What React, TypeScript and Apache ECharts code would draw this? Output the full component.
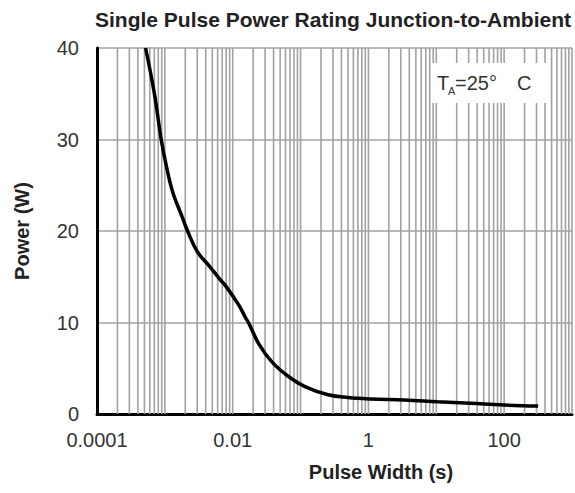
import React, { useEffect, useRef } from "react";
import * as echarts from "echarts";

// Curve readings: pulse width (s) and single-pulse power (W)
const pulseWidth = [
  5.2e-4, 7.05e-4, 8.83e-4, 1.045e-3, 1.3e-3, 1.83e-3, 2.16e-3, 3.03e-3, 4.49e-3,
  6.35e-3, 7.87e-3, 1.23e-2, 1.55e-2, 1.73e-2, 2.41e-2, 3.78e-2, 6.63e-2, 0.116, 0.255,
  0.5, 1.09, 3.37, 10.4, 31.7, 97.7, 317,
];
const power = [
  40, 34.9, 30, 27.2, 24.3, 21.4, 20, 17.7, 16.2, 14.8, 14.0, 11.9, 10.5, 9.9, 7.7, 5.7,
  4.1, 3.0, 2.1, 1.8, 1.64, 1.53, 1.34, 1.17, 0.98, 0.87,
];

const xTickLabels = ["0.0001", "0.01", "1", "100"];
const xMin = 0.0001;
const xMax = 1000;
const yMin = 0;
const yMax = 40;
const yStep = 10;

const titleText = "Single Pulse Power Rating Junction-to-Ambient";
const xName = "Pulse Width (s)";
const yName = "Power (W)";

const FONT = "'Liberation Sans', Arial, sans-serif";
const GRID_COLOR = "#a2a2a2";

export default function App() {
  const ref = useRef<HTMLDivElement>(null);

  useEffect(() => {
    if (!ref.current) return;
    const chart = echarts.init(ref.current, undefined, { renderer: "svg" });

    // vertical log grid lines at 1..9 x 10^k
    const gridValues: number[] = [];
    for (let e = -4; e <= 2; e++) {
      for (let m = 1; m <= 9; m++) {
        if (e === -4 && m === 1) continue;
        gridValues.push(m * Math.pow(10, e));
      }
    }
    gridValues.push(1000);

    const curve = pulseWidth.map((x, i) => [x, power[i]]);

    chart.setOption({
      animation: false,
      backgroundColor: "#ffffff",
      title: {
        text: titleText,
        left: 90,
        top: 4,
        textStyle: { fontFamily: FONT, fontSize: 21, fontWeight: "bold", color: "#222" },
      },
      grid: { left: 97, right: 0, top: 48, bottom: 79 },
      xAxis: {
        type: "log",
        logBase: 10,
        min: xMin,
        max: xMax,
        axisLine: { show: true, onZero: false, lineStyle: { color: "#000", width: 3 } },
        axisTick: { show: false },
        splitLine: { show: false },
        minorSplitLine: { show: false },
        axisLabel: {
          fontFamily: FONT,
          fontSize: 20,
          color: "#333",
          margin: 16,
          hideOverlap: false,
          formatter: (v: number) => {
            const e = Math.round(Math.log10(v));
            const idx = (e + 4) / 2;
            return Number.isInteger(idx) && idx >= 0 && idx < xTickLabels.length
              ? xTickLabels[idx]
              : "";
          },
        },
      },
      yAxis: {
        type: "value",
        min: yMin,
        max: yMax,
        interval: yStep,
        name: yName,
        nameLocation: "middle",
        nameRotate: 90,
        nameGap: 65,
        nameTextStyle: { fontFamily: FONT, fontSize: 20, fontWeight: "bold", color: "#222" },
        axisLine: { show: true, lineStyle: { color: "#000", width: 3 } },
        axisTick: { show: false },
        splitLine: { show: true, lineStyle: { color: GRID_COLOR, width: 1.6 } },
        axisLabel: { fontFamily: FONT, fontSize: 20, color: "#333", margin: 18 },
      },
      series: [
        {
          type: "custom",
          name: "grid",
          silent: true,
          z: 1,
          data: gridValues.map((v) => [v]),
          encode: { x: 0 },
          renderItem: (params: any, api: any) => {
            const v = api.value(0);
            const p0 = api.coord([v, yMin]);
            const p1 = api.coord([v, yMax]);
            return {
              type: "line",
              shape: { x1: p0[0], y1: p0[1], x2: p1[0], y2: p1[1] },
              style: { stroke: GRID_COLOR, lineWidth: 1.6 },
            };
          },
        },
        {
          type: "line",
          name: "Power",
          data: curve,
          smooth: 0.4,
          showSymbol: false,
          z: 5,
          lineStyle: { color: "#000", width: 3.5 },
          clip: true,
        },
      ],
      graphic: [
        {
          type: "rect",
          z: 10,
          shape: { x: 432, y: 63, width: 116, height: 40 },
          style: { fill: "#fff" },
        },
        {
          type: "text",
          z: 11,
          x: 437,
          y: 83,
          style: { text: "T", font: `20px ${FONT}`, fill: "#333", verticalAlign: "middle" },
        },
        {
          type: "text",
          z: 11,
          x: 448,
          y: 91,
          style: { text: "A", font: `11px ${FONT}`, fill: "#333", verticalAlign: "middle" },
        },
        {
          type: "text",
          z: 11,
          x: 455,
          y: 83,
          style: { text: "=25°", font: `20px ${FONT}`, fill: "#333", verticalAlign: "middle" },
        },
        {
          type: "text",
          z: 11,
          x: 517,
          y: 83,
          style: { text: "C", font: `20px ${FONT}`, fill: "#333", verticalAlign: "middle" },
        },
        {
          type: "text",
          x: 381,
          y: 472,
          style: {
            text: xName,
            font: `bold 20px ${FONT}`,
            fill: "#222",
            align: "center",
            verticalAlign: "middle",
          },
        },
      ],
    });

    return () => chart.dispose();
  }, []);

  return (
    <div
      ref={ref}
      style={{ position: "absolute", left: 0, top: 0, width: 575, height: 493, background: "#fff" }}
    />
  );
}
